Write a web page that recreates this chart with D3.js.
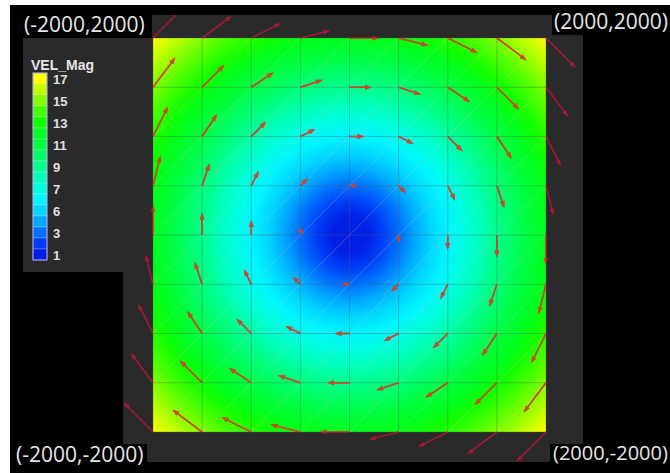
<!DOCTYPE html>
<html><head><meta charset="utf-8">
<script src="https://cdn.jsdelivr.net/npm/d3@7"></script>
<style>
html,body{margin:0;padding:0;background:#fff;}
svg{display:block;}
</style></head><body>
<svg id="chart" width="670" height="473"></svg>
<script>
// ---- data ----
const nodeX = [-2000,-1500,-1000,-500,0,500,1000,1500,2000];
const nodeY = [2000,1500,1000,500,0,-500,-1000,-1500,-2000];
// velocity components (x, y) at each mesh node; rows follow nodeY, columns follow nodeX
const velU = [
  [12,12,12,12,12,12,12,12,12],
  [9,9,9,9,9,9,9,9,9],
  [6,6,6,6,6,6,6,6,6],
  [3,3,3,3,3,3,3,3,3],
  [0,0,0,0,0,0,0,0,0],
  [-3,-3,-3,-3,-3,-3,-3,-3,-3],
  [-6,-6,-6,-6,-6,-6,-6,-6,-6],
  [-9,-9,-9,-9,-9,-9,-9,-9,-9],
  [-12,-12,-12,-12,-12,-12,-12,-12,-12]
];
const velV = [
  [12,9,6,3,0,-3,-6,-9,-12],
  [12,9,6,3,0,-3,-6,-9,-12],
  [12,9,6,3,0,-3,-6,-9,-12],
  [12,9,6,3,0,-3,-6,-9,-12],
  [12,9,6,3,0,-3,-6,-9,-12],
  [12,9,6,3,0,-3,-6,-9,-12],
  [12,9,6,3,0,-3,-6,-9,-12],
  [12,9,6,3,0,-3,-6,-9,-12],
  [12,9,6,3,0,-3,-6,-9,-12]
];
const legendTitle = "VEL_Mag";
const legendBands = [17,16,15,14,13,12,11,10,9,8,7,6,5,4,3,2,1];
const legendTickValues = [17,15,13,11,9,7,5,3,1];
const legendTickLabels = ["17","15","13","11","9","7","6","3","1"];
const colorStopValues = [1,2,3,4,5,6,7,8,9,10,11,12,13,14,15,16,17];
const colorStopColors = ["#001ee6","#003cf5","#006eff","#00a8ff","#00d7ff","#00f5ff","#00ffe1","#00ffb9","#00ff8c","#00ff64","#00ff3c","#00ff1e","#14ff00","#46ff00","#82ff00","#c3ff00","#ffff00"];
const cornerLabels = ["(-2000,2000)","(2000,2000)","(-2000,-2000)","(2000,-2000)"];

// ---- layout ----
const W = 670, H = 473;
const svg = d3.select("#chart");
const plot = {x0:153, x1:546, y0:38, y1:432};
const view = {x0:123, y0:15, x1:583, y1:462};
const xs = d3.scaleLinear().domain([-2000,2000]).range([plot.x0, plot.x1]);
const ys = d3.scaleLinear().domain([-2000,2000]).range([plot.y1, plot.y0]);
const color = d3.scaleLinear().domain(colorStopValues).range(colorStopColors).clamp(true);
const arrowLen = d3.scaleLinear().domain([0,1]).range([0,2.5]);
const panel = "#2a2a2a";

svg.append("rect").attr("width",W).attr("height",H).attr("fill","#fff");
svg.append("rect").attr("x",10).attr("y",5).attr("width",W-10).attr("height",H-5).attr("fill","#000");
svg.append("rect").attr("x",view.x0).attr("y",view.y0).attr("width",view.x1-view.x0).attr("height",view.y1-view.y0).attr("fill",panel);
svg.append("rect").attr("x",23).attr("y",38).attr("width",view.x0-23).attr("height",272-38).attr("fill",panel);

// ---- colour field (magnitude of the node velocity field, shaded across each cell) ----
const pw = plot.x1-plot.x0, ph = plot.y1-plot.y0;
const cv = document.createElement("canvas");
cv.width = pw; cv.height = ph;
const ctx = cv.getContext("2d");
const img = ctx.createImageData(pw, ph);
const cellW = nodeX[1]-nodeX[0];
function sample(gx, gy) {
  let ci = Math.min(nodeX.length-2, Math.max(0, Math.floor((gx-nodeX[0])/cellW)));
  let rj = Math.min(nodeY.length-2, Math.max(0, Math.floor((nodeY[0]-gy)/cellW)));
  const tx = (gx-nodeX[ci])/cellW, ty = (nodeY[rj]-gy)/cellW;
  const bil = A => (A[rj][ci]*(1-tx)+A[rj][ci+1]*tx)*(1-ty) + (A[rj+1][ci]*(1-tx)+A[rj+1][ci+1]*tx)*ty;
  return Math.hypot(bil(velU), bil(velV));
}
for (let py=0; py<ph; py++) {
  for (let px=0; px<pw; px++) {
    const gx = xs.invert(plot.x0+px+0.5), gy = ys.invert(plot.y0+py+0.5);
    const c = d3.rgb(color(sample(gx,gy)));
    const k = (py*pw+px)*4;
    img.data[k]=c.r; img.data[k+1]=c.g; img.data[k+2]=c.b; img.data[k+3]=255;
  }
}
ctx.putImageData(img,0,0);
svg.append("image").attr("x",plot.x0).attr("y",plot.y0).attr("width",pw).attr("height",ph)
  .attr("href", cv.toDataURL());

// ---- mesh ----
const mesh = svg.append("g");
nodeX.forEach(x => mesh.append("line").attr("x1",xs(x)).attr("x2",xs(x)).attr("y1",plot.y0).attr("y2",plot.y1)
  .attr("stroke","rgba(90,90,90,0.35)").attr("stroke-width",1));
nodeY.forEach(y => mesh.append("line").attr("y1",ys(y)).attr("y2",ys(y)).attr("x1",plot.x0).attr("x2",plot.x1)
  .attr("stroke","rgba(90,90,90,0.35)").attr("stroke-width",1));
for (let i=0;i<nodeX.length-1;i++) for (let j=0;j<nodeY.length-1;j++) {
  mesh.append("line").attr("x1",xs(nodeX[i])).attr("y1",ys(nodeY[j+1])).attr("x2",xs(nodeX[i+1])).attr("y2",ys(nodeY[j]))
    .attr("stroke","rgba(200,200,200,0.3)").attr("stroke-width",1);
}

// ---- arrows ----
const defs = svg.append("defs");
defs.append("clipPath").attr("id","vclip").append("rect")
  .attr("x",view.x0).attr("y",view.y0).attr("width",view.x1-view.x0).attr("height",view.y1-view.y0);
defs.append("clipPath").attr("id","pclip").append("rect")
  .attr("x",plot.x0).attr("y",plot.y0).attr("width",pw).attr("height",ph);
function drawArrows(g, col, sw) {
  nodeY.forEach((y,j) => nodeX.forEach((x,i) => {
    const u = velU[j][i], v = velV[j][i];
    const m = Math.hypot(u,v);
    if (m === 0) return;
    const x0 = xs(x), y0 = ys(y);
    const L = arrowLen(m);
    const dx = u/m, dy = -v/m;
    const x1 = x0+dx*L, y1 = y0+dy*L;
    g.append("line").attr("x1",x0).attr("y1",y0).attr("x2",x1-dx*3).attr("y2",y1-dy*3)
      .attr("stroke",col).attr("stroke-width",sw);
    const hl = Math.min(7, L*0.6), hw = 2.4;
    const bx = x1-dx*hl, by = y1-dy*hl;
    g.append("path").attr("d",`M${x1},${y1}L${bx-dy*hw},${by+dx*hw}L${bx+dy*hw},${by-dx*hw}Z`)
      .attr("fill",col);
  }));
}
// arrows over the dark viewport
drawArrows(svg.append("g").attr("clip-path","url(#vclip)").attr("opacity",0.75), "#c8143c", 1.6);
// arrows over the coloured field
drawArrows(svg.append("g").attr("clip-path","url(#pclip)").attr("opacity",0.85), "#d8481e", 1.4);

// ---- corner labels ----
const lab = svg.append("g").style("font-family","'Open Sans', sans-serif").style("font-size","21px").attr("fill","#e6e6e6");
const boxes = [[10,5,142,33],[552,5,118,30],[10,444,137,29],[550,444,120,29]];
boxes.forEach(b => lab.append("rect").attr("x",b[0]).attr("y",b[1]).attr("width",b[2]).attr("height",b[3]).attr("fill","#000"));
lab.append("text").attr("x",24).attr("y",32).text(cornerLabels[0]);
lab.append("text").attr("x",554).attr("y",29).text(cornerLabels[1]);
lab.append("text").attr("x",16).attr("y",462).text(cornerLabels[2]);
lab.append("text").attr("x",553).attr("y",460).style("font-size","20px").text(cornerLabels[3]);

// ---- legend ----
const lg = svg.append("g");
lg.append("text").attr("x",31).attr("y",70).text(legendTitle)
  .style("font-family","'Liberation Sans', Arial, sans-serif").style("font-weight","bold").style("font-size","14px").attr("fill","#e6e6e6");
const bandH = 11, barX = 33, barY = 73, barW = 14;
const ly = d3.scaleLinear().domain([17,1]).range([barY+bandH/2, barY+bandH*(legendBands.length-0.5)]);
legendBands.forEach(v => lg.append("rect").attr("x",barX).attr("y",ly(v)-bandH/2).attr("width",barW).attr("height",bandH)
  .attr("fill",color(v)).attr("stroke","rgba(220,220,255,0.35)").attr("stroke-width",0.8));
lg.append("rect").attr("x",barX).attr("y",barY).attr("width",barW).attr("height",bandH*legendBands.length)
  .attr("fill","none").attr("stroke","#a8a8e0").attr("stroke-width",1);
legendTickValues.forEach((v,i) => lg.append("text").attr("x",53).attr("y",ly(v)+5).text(legendTickLabels[i])
  .style("font-family","'Liberation Sans', Arial, sans-serif").style("font-weight","bold").style("font-size","13px").attr("fill","#e0e0e0"));
</script>
</body></html>
